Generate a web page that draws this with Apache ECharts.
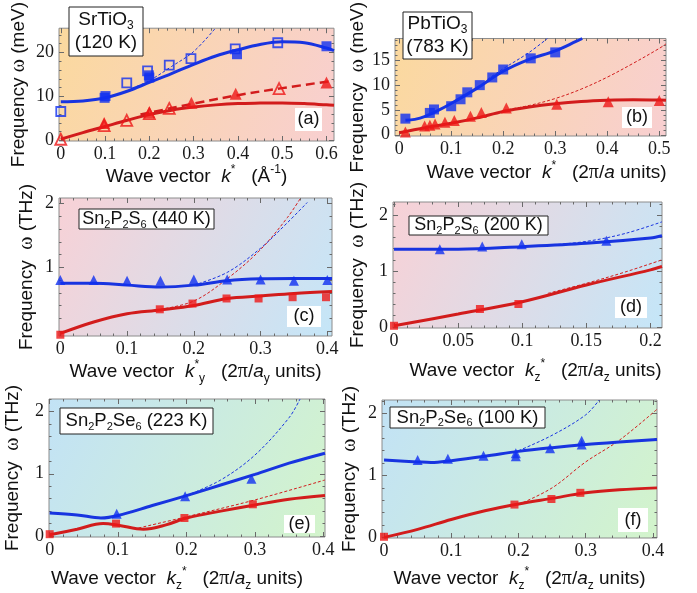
<!DOCTYPE html>
<html>
<head>
<meta charset="utf-8">
<script src="https://cdn.jsdelivr.net/npm/echarts@6/dist/echarts.min.js"></script>
<style>
  html, body { margin: 0; padding: 0; background: #fff; }
  #chart { width: 697px; height: 593px; }
</style>
</head>
<body>
<div id="chart"></div>
<script>
// ---- data ----
// (a) SrTiO3, meV vs 1/Å
const aBlueFit = [[0,8.8],[0.05,9.0],[0.1,9.7],[0.15,11.2],[0.2,13.2],[0.25,15.2],[0.3,17.3],[0.35,19.2],[0.4,20.6],[0.45,21.8],[0.5,22.4],[0.55,22.2],[0.6,21.0],[0.617,20.4]];
const aBlueDot = [[0.16,11.8],[0.2,13.6],[0.25,16.8],[0.3,20.2],[0.35,25.6]];
const aBlueOpen = [[0,6.6],[0.149,13.1],[0.196,15.8],[0.245,17.1],[0.294,18.6],[0.394,20.8],[0.49,22.2]];
const aBlueFilled = [[0.099,9.7],[0.101,10.1],[0.2,14.3],[0.199,14.8],[0.398,19.6],[0.6,21.4]];
const aRedFit = [[0,0.3],[0.05,1.8],[0.1,3.2],[0.15,4.6],[0.2,5.9],[0.25,6.9],[0.3,7.6],[0.35,8.1],[0.4,8.4],[0.45,8.5],[0.5,8.55],[0.55,8.4],[0.6,8.1],[0.617,8.0]];
const aRedDash = [[0.18,5.9],[0.3,8.4],[0.4,10.3],[0.5,11.9],[0.617,13.6]];
const aRedFilled = [[0.098,4.0],[0.2,6.4],[0.295,8.6],[0.395,10.6],[0.6,13.2]];
const aRedOpen = [[0,0.3],[0.098,3.4],[0.149,4.6],[0.2,6.1],[0.245,7.3],[0.493,11.8]];

// (b) PbTiO3, meV vs 2π/a
const bBlueFit = [[0.012,2.9],[0.03,3.1],[0.05,3.7],[0.075,4.9],[0.1,6.3],[0.15,9.4],[0.2,12.8],[0.25,15.2],[0.3,16.9],[0.34,18.8],[0.352,19.4]];
const bBlueDot = [[0.17,11.2],[0.2,13.3],[0.25,16.6],[0.285,19.4]];
const bBlueSq = [[0.012,3.25],[0.059,4.4],[0.067,5.1],[0.1,5.75],[0.118,7.15],[0.131,8.55],[0.155,10.0],[0.179,11.55],[0.2,13.15],[0.253,15.4],[0.3,16.6]];
const bRedFit = [[0,0.4],[0.05,1.4],[0.1,2.3],[0.15,3.4],[0.2,4.7],[0.25,5.6],[0.3,6.25],[0.35,6.7],[0.4,6.95],[0.45,7.05],[0.5,7.0],[0.513,6.95]];
const bRedDot = [[0.2,4.9],[0.25,5.9],[0.3,7.3],[0.35,9.2],[0.4,11.6],[0.45,14.4],[0.5,17.4],[0.513,18.3]];
const bRedTri = [[0.012,0.55],[0.049,1.75],[0.059,1.9],[0.069,2.15],[0.088,2.5],[0.106,2.85],[0.137,3.75],[0.158,4.5],[0.206,5.4],[0.303,6.15],[0.402,6.65],[0.5,6.9]];

// (c) Sn2P2S6 440 K, THz
const cBlueFit = [[0,0.75],[0.05,0.75],[0.1,0.72],[0.15,0.69],[0.2,0.72],[0.25,0.79],[0.3,0.82],[0.35,0.826],[0.407,0.826]];
const cBlueDot = [[0.2,0.72],[0.25,0.92],[0.3,1.3],[0.34,1.7],[0.37,2.02]];
const cBlueTri = [[0,0.8],[0.05,0.8],[0.1,0.79],[0.15,0.79],[0.2,0.81],[0.25,0.81],[0.3,0.81],[0.35,0.79],[0.4,0.8]];
const cRedFit = [[0,-0.04],[0.05,0.14],[0.1,0.27],[0.15,0.33],[0.2,0.4],[0.25,0.51],[0.3,0.55],[0.35,0.59],[0.407,0.62]];
const cRedDot = [[0.15,0.34],[0.2,0.47],[0.25,0.82],[0.3,1.28],[0.34,1.78],[0.36,2.09]];
const cRedSq = [[0,-0.06],[0.149,0.34],[0.198,0.43],[0.249,0.51],[0.297,0.51],[0.348,0.53],[0.398,0.53]];

// (d) Sn2P2S6 200 K
const dBlueFit = [[0,1.39],[0.05,1.39],[0.1,1.435],[0.15,1.495],[0.2,1.59],[0.209,1.63]];
const dBlueDash = [[0.12,1.46],[0.15,1.53],[0.18,1.67],[0.209,1.88]];
const dBlueTri = [[0.0357,1.39],[0.0688,1.44],[0.0996,1.48],[0.1656,1.54]];
const dRedFit = [[0,0.02],[0.05,0.23],[0.1,0.45],[0.15,0.75],[0.2,1.02],[0.209,1.08]];
const dRedDash = [[0.12,0.6],[0.15,0.78],[0.18,0.98],[0.209,1.2]];
const dRedSq = [[0,0.02],[0.067,0.32],[0.097,0.41]];

// (e) Sn2P2Se6 223 K
const eBlueFit = [[0,0.37],[0.04,0.34],[0.075,0.29],[0.1,0.33],[0.15,0.49],[0.2,0.65],[0.25,0.82],[0.3,0.99],[0.35,1.17],[0.4025,1.33]];
const eBlueDot = [[0.2,0.65],[0.25,0.9],[0.3,1.3],[0.35,1.9],[0.366,2.2]];
const eBlueTri = [[0.098,0.36],[0.198,0.64],[0.295,0.92]];
const eRedFit = [[0,0.02],[0.04,0.11],[0.078,0.2],[0.1,0.175],[0.137,0.11],[0.17,0.18],[0.2,0.29],[0.25,0.4],[0.3,0.5],[0.35,0.59],[0.4025,0.65]];
const eRedDash = [[0.13,0.13],[0.2,0.31],[0.3,0.58],[0.4025,0.9]];
const eRedSq = [[0,0.03],[0.097,0.2],[0.197,0.29],[0.297,0.51]];

// (f) Sn2P2Se6 100 K
const fBlueFit = [[0,1.25],[0.05,1.22],[0.07,1.21],[0.1,1.24],[0.15,1.31],[0.2,1.39],[0.25,1.45],[0.3,1.5],[0.35,1.54],[0.406,1.58]];
const fBlueDot = [[0.2,1.4],[0.25,1.65],[0.3,1.98],[0.32,2.22]];
const fBlueTri = [[0.05,1.25],[0.095,1.27],[0.148,1.32],[0.196,1.31],[0.196,1.36],[0.247,1.44],[0.294,1.5],[0.294,1.56]];
const fRedFit = [[0,0],[0.05,0.13],[0.1,0.29],[0.15,0.43],[0.2,0.54],[0.25,0.63],[0.3,0.72],[0.35,0.77],[0.406,0.8]];
const fRedDot = [[0.2,0.53],[0.25,0.8],[0.3,1.22],[0.35,1.57],[0.406,2.07]];
const fRedSq = [[0,0.01],[0.194,0.53],[0.249,0.62],[0.292,0.72]];

// tick labels
const xTicks4 = [0, 0.1, 0.2, 0.3, 0.4];
const xTicksA = [0, 0.1, 0.2, 0.3, 0.4, 0.5, 0.6];
const xTicksB = [0, 0.1, 0.2, 0.3, 0.4, 0.5];
const xTicksD = [0, 0.05, 0.1, 0.15, 0.2];
const yTicksA = [0, 10, 20];
const yTicksB = [0, 5, 10, 15];
const yTicksTHz = [0, 1, 2];
const yLabelsC = [1, 2];

// ---- styling ----
const SANS = "'Liberation Sans', Arial, sans-serif";
const SERIF = "'Liberation Serif', 'Times New Roman', serif";
const BLUE = '#1834e0';
const BLUE_M = '#1030f0';
const RED = '#d21c1c';
const RED_M = '#ee1818';

const bgWarm = ['#fbd99e', '#f8cfd1'];
const bgCool = ['#f8d1d6', '#c4e6f8'];
const bgGreen = ['#c2e2f6', '#d3f4cb'];

const panels = [
  { grid: { left: 59, top: 3, width: 275, height: 138 }, bg: bgWarm,
    x: [-0.004, 0.617], y: [-0.1, 25.5], xLab: xTicksA, yLab: yTicksA, yTick: yTicksA, xMinor: 0.02, yMinor: 2,
    xName: '{t|Wave vector  }{k|k}{sp|*}{t|   (Å}{sp|-1}{t|)}', xGap: 22, xShift: 0,
    yName: '{t|Frequency }{g|ω}{t| (meV)}', yGap: 27 },
  { grid: { left: 395, top: 5, width: 271, height: 131 }, bg: bgWarm,
    x: [-0.008, 0.513], y: [-0.25, 19.4], xLab: xTicksB, yLab: yTicksB, yTick: yTicksB, xMinor: 0.02, yMinor: 1,
    xName: '{t|Wave vector  }{k|k}{sp|*}{t|   (2}{g|π}{t|/}{k|a}{t| units)}', xGap: 24, xShift: 16,
    yName: '{t|Frequency  }{g|ω}{t| (meV)}', yGap: 24 },
  { grid: { left: 59, top: 198, width: 273, height: 138 }, bg: bgCool,
    x: [-0.002, 0.407], y: [-0.08, 2.09], xLab: xTicks4, yLab: yLabelsC, yTick: yTicksTHz, xMinor: 0.02, yMinor: 0.2,
    xName: '{t|Wave vector  }{k|k}{sp|*}{sb|y}{t|   (2}{g|π}{t|/}{k|a}{sb|y}{t| units)}', xGap: 21, xShift: 0,
    yName: '{t|Frequency  }{g|ω}{t| (THz)}', yGap: 19 },
  { grid: { left: 393, top: 202, width: 269, height: 126 }, bg: bgCool,
    x: [-0.0008, 0.209], y: [-0.02, 2.235], xLab: xTicksD, yLab: yTicksTHz, yTick: yTicksTHz, xMinor: 0.01, yMinor: 0.2,
    xName: '{t|Wave vector  }{k|k}{sb|z}{sp|*}{t|   (2}{g|π}{t|/}{k|a}{sb|z}{t| units)}', xGap: 30, xShift: 8,
    yName: '{t|Frequency  }{g|ω}{t| (THz)}', yGap: 22 },
  { grid: { left: 49, top: 399, width: 276, height: 139 }, bg: bgGreen,
    x: [-0.001, 0.4025], y: [-0.015, 2.2], xLab: xTicks4, yLab: yTicksTHz, yTick: yTicksTHz, xMinor: 0.02, yMinor: 0.2,
    xName: '{t|Wave vector  }{k|k}{sb|z}{sp|*}{t|   (2}{g|π}{t|/}{k|a}{sb|z}{t| units)}', xGap: 29, xShift: -10,
    yName: '{t|Frequency  }{g|ω}{t| (THz)}', yGap: 23 },
  { grid: { left: 382, top: 400, width: 275, height: 139 }, bg: bgGreen,
    x: [-0.003, 0.406], y: [-0.01, 2.22], xLab: xTicks4, yLab: yTicksTHz, yTick: yTicksTHz, xMinor: 0.02, yMinor: 0.2,
    xName: '{t|Wave vector  }{k|k}{sb|z}{sp|*}{t|   (2}{g|π}{t|/}{k|a}{sb|z}{t| units)}', xGap: 28, xShift: 0,
    yName: '{t|Frequency  }{g|ω}{t| (THz)}', yGap: 19 }
];

const nameRich = {
  t: { fontFamily: SANS, fontSize: 19, color: '#111', lineHeight: 26 },
  k: { fontFamily: SANS, fontStyle: 'italic', fontSize: 19, color: '#111', lineHeight: 26 },
  g: { fontFamily: SERIF, fontSize: 20, color: '#111', lineHeight: 26 },
  sp: { fontFamily: SANS, fontSize: 12, color: '#111', verticalAlign: 'top', lineHeight: 14 },
  sb: { fontFamily: SANS, fontSize: 12, color: '#111', verticalAlign: 'bottom', lineHeight: 14 }
};

function minorList(min, max, step) {
  const out = [];
  const start = Math.ceil(min / step) * step;
  for (let v = start; v <= max + 1e-9; v += step) out.push(+v.toFixed(5));
  return out;
}

const fmt = v => String(+(+v).toFixed(4));

const grids = [], xAxes = [], yAxes = [];
panels.forEach((p, i) => {
  grids.push(Object.assign({
    show: true, borderColor: '#8c8c8c', borderWidth: 1,
    backgroundColor: { type: 'linear', x: 0, y: 0, x2: 1, y2: 1,
      colorStops: [{ offset: 0, color: p.bg[0] }, { offset: 1, color: p.bg[1] }] }
  }, p.grid));

  const base = (min, max) => ({
    gridIndex: i, type: 'value', min, max, splitLine: { show: false },
    axisLine: { show: false, onZero: false }
  });
  const tick = (vals, len) => ({ show: true, inside: true, length: len, customValues: vals,
    lineStyle: { color: '#6a6a6a', width: 1 } });
  const xMin = minorList(p.x[0], p.x[1], p.xMinor);
  const yMin = minorList(p.y[0], p.y[1], p.yMinor);
  const sh = p.xShift;

  xAxes.push(Object.assign(base(p.x[0], p.x[1]), {
    position: 'bottom',
    axisTick: tick(p.xLab, 5),
    axisLabel: { customValues: p.xLab, formatter: fmt, margin: 4,
      fontFamily: SERIF, fontSize: 18, color: '#1a1a1a' },
    name: p.xName, nameLocation: 'middle', nameGap: p.xGap,
    nameTextStyle: { rich: nameRich, padding: sh >= 0 ? [0, 0, 0, 2 * sh] : [0, -2 * sh, 0, 0] }
  }));
  xAxes.push(Object.assign(base(p.x[0], p.x[1]), { position: 'top', axisTick: tick(p.xLab, 5), axisLabel: { show: false } }));
  xAxes.push(Object.assign(base(p.x[0], p.x[1]), { position: 'bottom', axisTick: tick(xMin, 2.5), axisLabel: { show: false } }));
  xAxes.push(Object.assign(base(p.x[0], p.x[1]), { position: 'top', axisTick: tick(xMin, 2.5), axisLabel: { show: false } }));

  yAxes.push(Object.assign(base(p.y[0], p.y[1]), {
    position: 'left',
    axisTick: tick(p.yTick, 5),
    axisLabel: { customValues: p.yLab, formatter: fmt, margin: 5,
      fontFamily: SERIF, fontSize: 18, color: '#1a1a1a' },
    name: p.yName, nameLocation: 'middle', nameGap: p.yGap, nameRotate: 90,
    nameTextStyle: { rich: nameRich }
  }));
  yAxes.push(Object.assign(base(p.y[0], p.y[1]), { position: 'right', axisTick: tick(p.yTick, 5), axisLabel: { show: false } }));
  yAxes.push(Object.assign(base(p.y[0], p.y[1]), { position: 'left', axisTick: tick(yMin, 2.5), axisLabel: { show: false } }));
  yAxes.push(Object.assign(base(p.y[0], p.y[1]), { position: 'right', axisTick: tick(yMin, 2.5), axisLabel: { show: false } }));
});

function curve(pi, data, color, width, dash) {
  return { type: 'line', xAxisIndex: 4 * pi, yAxisIndex: 4 * pi, data, smooth: 0.35,
    symbol: 'none', silent: true, z: 3,
    lineStyle: { color, width, type: dash || 'solid' } };
}
function marks(pi, data, symbol, color, size, hollow) {
  return { type: 'scatter', xAxisIndex: 4 * pi, yAxisIndex: 4 * pi, data, symbol,
    symbolSize: size, silent: true, z: 5,
    itemStyle: hollow ? { color: 'rgba(0,0,0,0)', borderColor: color, borderWidth: 1.8 }
                      : { color, borderWidth: 0 } };
}
const DOT = [3, 2];

const series = [
  // (a)
  curve(0, aBlueDot, BLUE, 1, DOT),
  curve(0, aRedDash, RED, 2.5, [9, 5]),
  curve(0, aBlueFit, BLUE, 3),
  curve(0, aRedFit, RED, 3),
  marks(0, aBlueOpen, 'rect', BLUE_M, 9, true),
  marks(0, aBlueFilled, 'rect', BLUE_M, 10),
  marks(0, aRedOpen, 'triangle', RED_M, 11, true),
  marks(0, aRedFilled, 'triangle', RED_M, 12),
  // (b)
  curve(1, bBlueDot, BLUE, 1, DOT),
  curve(1, bRedDot, RED, 1, DOT),
  curve(1, bBlueFit, BLUE, 3),
  curve(1, bRedFit, RED, 3),
  marks(1, bBlueSq, 'rect', BLUE_M, 10),
  marks(1, bRedTri, 'triangle', RED_M, 11),
  // (c)
  curve(2, cBlueDot, BLUE, 1, DOT),
  curve(2, cRedDot, RED, 1, DOT),
  curve(2, cBlueFit, BLUE, 3),
  curve(2, cRedFit, RED, 3),
  marks(2, cBlueTri, 'triangle', BLUE_M, 10),
  marks(2, cRedSq, 'rect', RED_M, 8),
  // (d)
  curve(3, dBlueDash, BLUE, 1, DOT),
  curve(3, dRedDash, RED, 1, DOT),
  curve(3, dBlueFit, BLUE, 3),
  curve(3, dRedFit, RED, 3),
  marks(3, dBlueTri, 'triangle', BLUE_M, 10),
  marks(3, dRedSq, 'rect', RED_M, 8),
  // (e)
  curve(4, eBlueDot, BLUE, 1, DOT),
  curve(4, eRedDash, RED, 1, DOT),
  curve(4, eBlueFit, BLUE, 3),
  curve(4, eRedFit, RED, 3),
  marks(4, eBlueTri, 'triangle', BLUE_M, 10),
  marks(4, eRedSq, 'rect', RED_M, 8),
  // (f)
  curve(5, fBlueDot, BLUE, 1, DOT),
  curve(5, fRedDot, RED, 1, DOT),
  curve(5, fBlueFit, BLUE, 3),
  curve(5, fRedFit, RED, 3),
  marks(5, fBlueTri, 'triangle', BLUE_M, 10),
  marks(5, fRedSq, 'rect', RED_M, 8)
];

// boxed labels inside the panels
const boxRich = size => ({
  t: { fontFamily: SANS, fontSize: size, fill: '#111', lineHeight: size + 4 },
  sub: { fontFamily: SANS, fontSize: Math.round(size * 0.62), fill: '#111',
         verticalAlign: 'bottom', lineHeight: size + 1 }
});
function labelBox(rect, text, size, border) {
  return [
    { type: 'rect', shape: { x: rect[0], y: rect[1], width: rect[2], height: rect[3] }, z: 20,
      style: { fill: '#fff', stroke: border ? '#222' : null, lineWidth: border ? 1 : 0 } },
    { type: 'text', x: rect[0] + rect[2] / 2, y: rect[1] + rect[3] / 2, z: 21,
      style: { text, rich: boxRich(size), fontFamily: SANS, fontSize: size, fill: '#111',
               align: 'center', verticalAlign: 'middle' } }
  ];
}
const sn = (x, t) => `{t|Sn}{sub|2}{t|P}{sub|2}{t|${x}}{sub|6}{t| (${t})}`;

const graphics = [].concat(
  labelBox([69, 7, 74, 49], '{t|SrTiO}{sub|3}\n{t|(120 K)}', 19, true),
  labelBox([403, 12, 69, 47], '{t|PbTiO}{sub|3}\n{t|(783 K)}', 19, true),
  labelBox([79, 209, 135, 20], sn('S', '440 K'), 18, true),
  labelBox([409, 216, 139, 19], sn('S', '200 K'), 18, true),
  labelBox([60, 408, 153, 26], sn('Se', '223 K'), 18.5, true),
  labelBox([390, 407, 155, 21], sn('Se', '100 K'), 18.5, true),
  labelBox([295, 108, 27, 23], '{t|(a)}', 18, false),
  labelBox([622, 107, 30, 21], '{t|(b)}', 18, false),
  labelBox([287, 306, 34, 21], '{t|(c)}', 18, false),
  labelBox([615, 297, 32, 21], '{t|(d)}', 18, false),
  labelBox([284, 515, 31, 18], '{t|(e)}', 18, false),
  labelBox([618, 508, 30, 24], '{t|(f)}', 18, false)
);

const chart = echarts.init(document.getElementById('chart'));
chart.setOption({
  backgroundColor: '#ffffff',
  animation: false,
  grid: grids,
  xAxis: xAxes,
  yAxis: yAxes,
  series: series,
  graphic: graphics
});
</script>
</body>
</html>
